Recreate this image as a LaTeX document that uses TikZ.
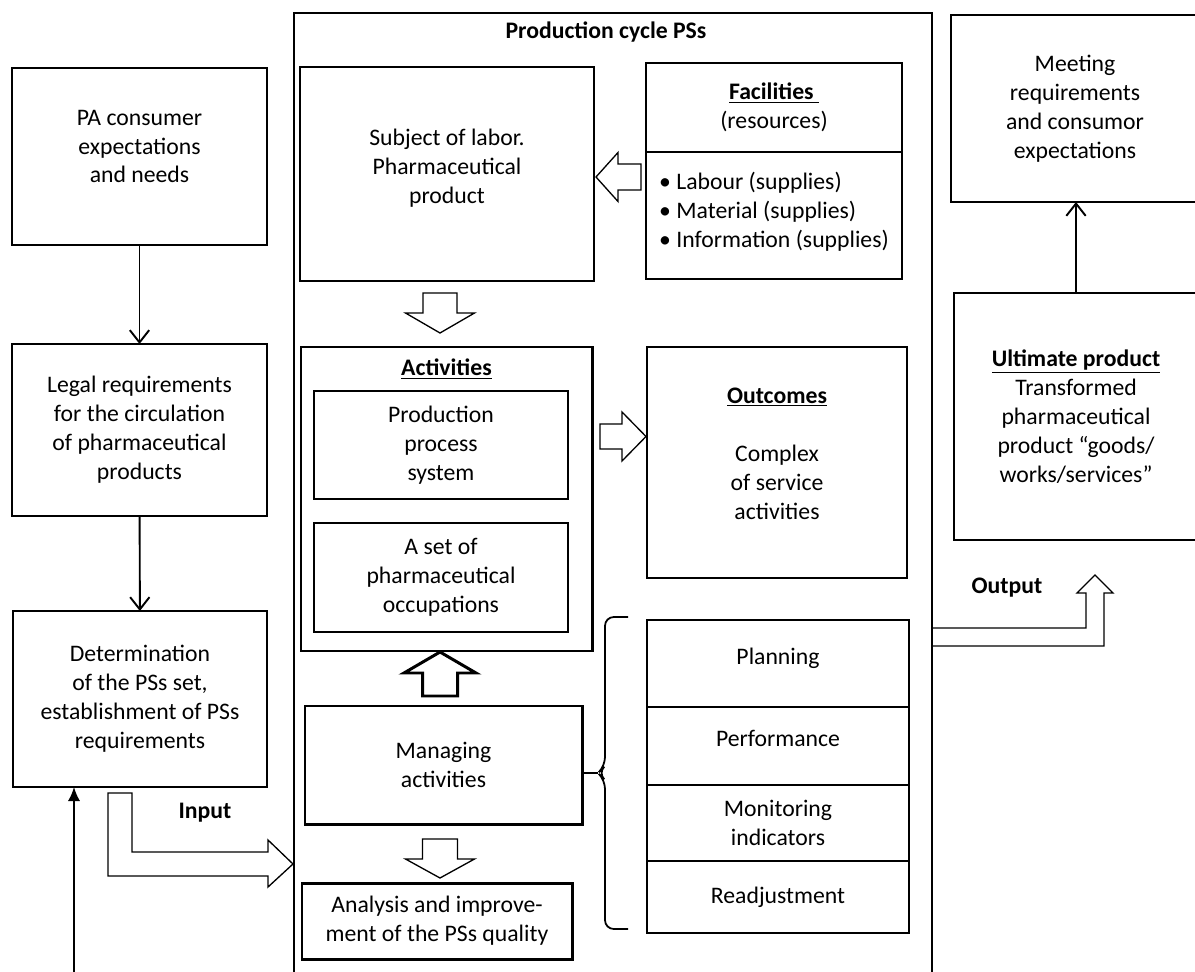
\documentclass[tikz,border=0pt]{standalone}
\usepackage{fontspec}
\setmainfont{Carlito}
\usetikzlibrary{arrows.meta,positioning}

\tikzset{
  base/.style={font=\fontsize{13.5}{16.5}\selectfont},
  title/.style={font=\fontsize{13.5}{16.5}\selectfont\bfseries},
  box/.style={base, draw, line width=0.75pt, align=center, inner sep=2pt, outer sep=0pt},
  heavybox/.style={box, line width=1.7pt},
  boxsize/.style 2 args={minimum width=#1*0.02cm, minimum height=#2*0.02cm},
  flow/.style={line width=1.1pt, -{Straight Barb[length=7pt,width=11pt]}},
  hollow/.style={draw, fill=white},
  pics/blockarrow/.style n args={4}{code={
    \path[hollow] (0,-#3) -- (#1-#2,-#3) -- (#1-#2,-#4) -- (#1,0)
      -- (#1-#2,#4) -- (#1-#2,#3) -- (0,#3) -- cycle;}},
}

\begin{document}
\begin{tikzpicture}[x=0.02cm, y=-0.02cm]
\clip (0,0) rectangle (1195,972);

% left column
\node (cons) [box, boxsize={255}{177}] at (139.5,156.5) {PA consumer\\expectations\\and needs\\[-5pt]\mbox{}};
\node (legal) [box, boxsize={255}{172}] at (139.5,430) {Legal requirements\\for the circulation\\of pharmaceutical\\products};
\node (det) [box, boxsize={254}{176}] at (140,699) {Determination\\of the PSs set,\\establishment of PSs\\requirements};
\draw[flow] (cons) -- (legal);
\draw[flow] (legal) -- (det);
\coordinate (feedback) at (74,990);
\draw[line width=1.1pt, -{Latex[length=8pt,width=7pt]}] (feedback) -- (feedback |- det.south);

% production cycle frame
\draw[line width=0.75pt] (294,990) |- (932,13) -- (932,990);
\node (cycletitle) [title] at (606,32) {Production cycle PSs};

\node (subj) [box, boxsize={294}{214}] at (447,174) {Subject of labor.\\Pharmaceutical\\product\\[-8pt]\mbox{}};
\node (factop) [box, boxsize={256}{89}] at (774,107.5) {\textbf{\underline{Facilities\ }}\\(resources)};
\node (facbot) [box, boxsize={256}{127}, align=left, below=0pt of factop] {\textbullet\ Labour (supplies)\\\textbullet\ Material (supplies)\\\textbullet\ Information (supplies)\\[-10pt]\mbox{}};

\node (act) [heavybox, boxsize={291}{304}] at (446.5,499) {};
\node (acttitle) [title] at (446.5,369) {\underline{Activities}};
\node (pps) [box, boxsize={254}{108}] at (441,445) {Production\\process\\system};
\node (occ) [box, boxsize={254}{109}] at (441,577.5) {A set of\\pharmaceutical\\occupations};

\node (outc) [box, boxsize={260}{231}] at (777,462.5) {\textbf{\underline{Outcomes}}\\[16.5pt]Complex\\of service\\activities\\[-6pt]\mbox{}};

\node (mgr) [heavybox, boxsize={277}{118}] at (443.5,765) {Managing\\activities};
\node (anl) [heavybox, boxsize={270}{76}] at (437,921) {Analysis and improve-\\ment of the PSs quality};

% management steps
\node (plan) [box, boxsize={262}{87}] at (778,663.5) {Planning\\[-8pt]\mbox{}};
\node (perf) [box, boxsize={262}{78}, below=0pt of plan] {Performance\\[-8pt]\mbox{}};
\node (mon) [box, boxsize={262}{76}, below=0pt of perf] {Monitoring\\indicators};
\node (readj) [box, boxsize={262}{72}, below=0pt of mon] {Readjustment};
\draw[line width=1.4pt] (plan.south west) -- (plan.south east);
\draw[line width=1.4pt] (mon.south west) -- (mon.south east);

\coordinate (bracemid) at (598,773);
\draw[line width=1pt, rounded corners=5pt] (628,617) -- (605,617) -- (605,766) -- (bracemid) -- (605,780) -- (605,929) -- (628,929);
\draw[line width=1pt] (bracemid) -- (bracemid -| mgr.east);

% hollow arrows
\pic[rotate=180, line width=0.75pt] at (641,177) {blockarrow={45}{22}{13}{24.5}};
\pic[rotate=-90, line width=0.75pt] at (440,293) {blockarrow={40}{20}{17}{34.5}};
\pic[line width=0.75pt] at (600,436.5) {blockarrow={46}{24}{12.5}{24.5}};
\pic[rotate=90, line width=1.7pt] at (440,696) {blockarrow={44}{21}{17.5}{36}};
\pic[rotate=-90, line width=0.75pt] at (440,839) {blockarrow={39}{19}{17.5}{34.5}};

% input
\draw[hollow, line width=0.75pt] (108,793) -- (132,793) -- (132,852) -- (268,852) -- (268,840) -- (293,864) -- (268,887) -- (268,876) -- (108,876) -- cycle;
\node (input) [title] at (205,813) {Input};

% right column
\node (meet) [box, boxsize={248}{187}] at (1075,108.5) {Meeting\\requirements\\and consumor\\expectations};
\node (ult) [box, boxsize={244}{247}] at (1076,416.5) {\textbf{\underline{Ultimate product}}\\Transformed\\pharmaceutical\\product ``goods/\\works/services''};
\draw[flow] (ult.north) -- (ult.north |- meet.south);

% output
\draw[line width=0.75pt] (932,628) -- (1086,628) -- (1086,593) -- (1077,593) -- (1095,575) -- (1113,593) -- (1104,593) -- (1104,646) -- (932,646);
\node (output) [title] at (1007,588) {Output};
\end{tikzpicture}
\end{document}
